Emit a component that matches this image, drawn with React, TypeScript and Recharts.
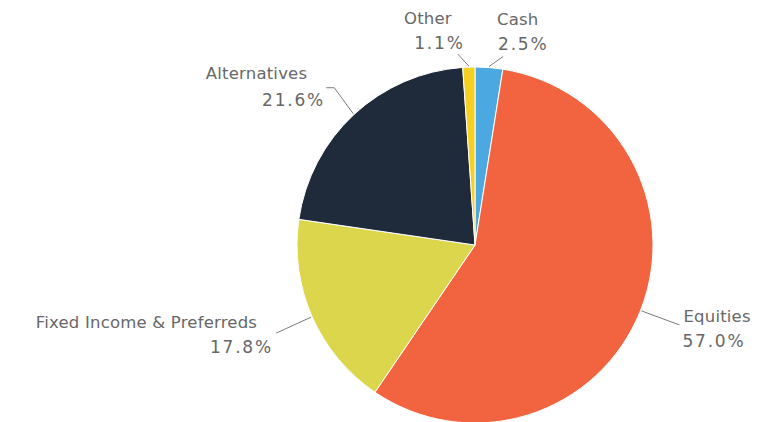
import { Pie, PieChart, Cell } from "recharts";

const categories = ["Cash", "Equities", "Fixed Income & Preferreds", "Alternatives", "Other"];
const shares = [2.5, 57.0, 17.8, 21.6, 1.1];
const colors = ["#4ba8e0", "#f2633f", "#dbd64b", "#1f2b3b", "#f5cf22"];

const data = categories.map((name, i) => ({ name, value: shares[i] }));

// leader line end relative to slice edge, text offsets relative to line end
const labelLayout = [
  { dx: 14, dy: -10, elbow: 0, anchor: "start", nx: -6, ny: -32, px: -5, py: -7 },
  { dx: 38, dy: 14, elbow: 0, anchor: "start", nx: 4, ny: -3, px: 3, py: 22 },
  { dx: -35, dy: 16, elbow: 0, anchor: "end", nx: -19, ny: -5, px: -5, py: 20 },
  { dx: -19, dy: -26, elbow: -8, anchor: "end", nx: -19, ny: -9, px: -3, py: 18 },
  { dx: -11, dy: -12, elbow: 0, anchor: "end", nx: -6, ny: -30, px: 5, py: -5 },
];

const RAD = Math.PI / 180;
const TEXT = "#676767";

function SliceLabel(props: any) {
  const { cx, cy, midAngle, outerRadius, index, name, value } = props;
  const l = labelLayout[index];
  const sx = cx + (outerRadius + 1) * Math.cos(-midAngle * RAD);
  const sy = cy + (outerRadius + 1) * Math.sin(-midAngle * RAD);
  const mx = sx + l.dx;
  const my = sy + l.dy;
  const ex = mx + l.elbow;
  const ey = my;
  const pctSpacing = 1.8;
  const shift = l.anchor === "end" ? pctSpacing : 0;
  return (
    <g>
      <polyline
        points={`${sx},${sy} ${mx},${my} ${ex},${ey}`}
        fill="none"
        stroke="#7a7a7a"
        strokeWidth={1}
      />
      <text
        x={ex + l.nx}
        y={ey + l.ny}
        textAnchor={l.anchor}
        fill={TEXT}
        fontSize={16.5}
        letterSpacing={0.2}
        fontFamily="DejaVu Sans, sans-serif"
      >
        {name}
      </text>
      <text
        x={ex + l.px + shift}
        y={ey + l.py}
        textAnchor={l.anchor}
        fill={TEXT}
        fontSize={17}
        letterSpacing={pctSpacing}
        fontFamily="DejaVu Sans, sans-serif"
      >
        {value.toFixed(1)}%
      </text>
    </g>
  );
}

export default function App() {
  return (
    <div style={{ position: "absolute", left: 0, top: 0, background: "#fff" }}>
      <PieChart width={761} height={422} margin={{ top: 0, right: 0, bottom: 0, left: 0 }}>
        <Pie
          data={data}
          dataKey="value"
          nameKey="name"
          cx={475}
          cy={245}
          outerRadius={178}
          startAngle={90}
          endAngle={-270}
          stroke="#ffffff"
          strokeWidth={1}
          label={SliceLabel}
          labelLine={false}
          isAnimationActive={false}
        >
          {data.map((d, i) => (
            <Cell key={d.name} fill={colors[i]} />
          ))}
        </Pie>
      </PieChart>
    </div>
  );
}
